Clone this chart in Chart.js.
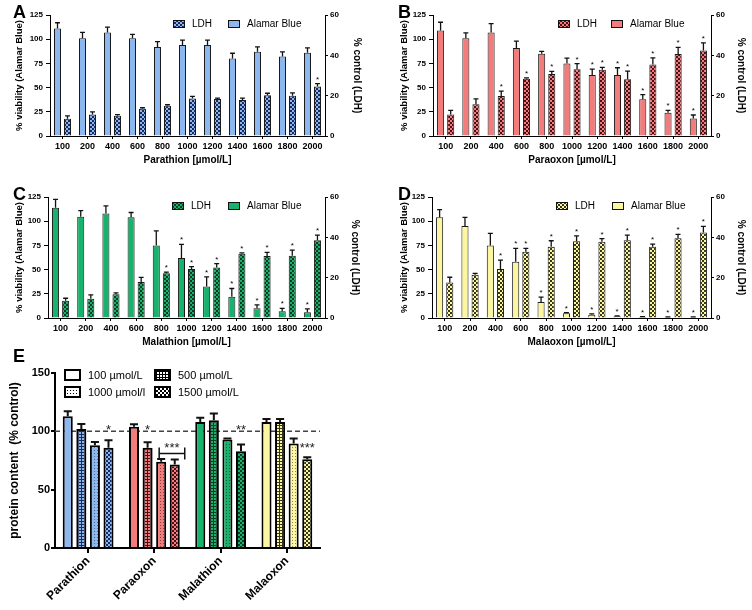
<!DOCTYPE html>
<html>
<head>
<meta charset="utf-8">
<script src="https://cdn.jsdelivr.net/npm/chart.js@4/dist/chart.umd.min.js"></script>
<style>
  body { margin: 0; background: #fff; width: 752px; height: 610px; position: relative; overflow: hidden; font-family: 'Liberation Sans', Arial, sans-serif; }
  canvas { position: absolute; }
  .letter { position: absolute; font-weight: bold; font-size: 18px; line-height: 18px; color: #000; }
</style>
</head>
<body>
<canvas id="chart_a" width="376" height="176" style="left:0;top:0"></canvas>
<canvas id="chart_b" width="376" height="176" style="left:376px;top:0"></canvas>
<canvas id="chart_c" width="376" height="176" style="left:0;top:182px"></canvas>
<canvas id="chart_d" width="376" height="176" style="left:376px;top:182px"></canvas>
<canvas id="chart_e" width="340" height="260" style="left:0;top:350px"></canvas>
<div class="letter" style="left:13px;top:3px">A</div>
<div class="letter" style="left:398px;top:3px">B</div>
<div class="letter" style="left:13px;top:185px">C</div>
<div class="letter" style="left:398px;top:185px">D</div>
<div class="letter" style="left:13px;top:347px">E</div>
<script>
Chart.defaults.font.family = "'Liberation Sans', Arial, sans-serif";
Chart.defaults.color = '#000';

const concentrations = ['100', '200', '400', '600', '800', '1000', '1200', '1400', '1600', '1800', '2000'];
const compounds = ['Parathion', 'Paraoxon', 'Malathion', 'Malaoxon'];
const compound_colors = ['#8db7ef', '#f27b7b', '#17b26b', '#fbf69f'];
const compound_darks = ['#1b2a5c', '#4a1016', '#0b3d22', '#35341c'];

// A - parathion (alamar blue in % viability, ldh in % control)
const parathion_ab = [111, 101, 107, 101, 92, 94, 94, 80, 87, 82, 86];
const parathion_ab_err = [6, 6, 5.5, 4, 5.5, 5, 5, 5.5, 5, 5, 5];
const parathion_ab_star = [0, 0, 0, 0, 0, 0, 0, 0, 0, 0, 0];
const parathion_ldh = [8.6, 10.6, 10.1, 13.5, 15, 18.6, 18.3, 17.8, 20.2, 20, 24.6];
const parathion_ldh_err = [1.4, 1.4, 0.5, 0.5, 0.5, 1.0, 0.5, 1.0, 1.0, 1.4, 1.4];
const parathion_ldh_star = [0, 0, 0, 0, 0, 0, 0, 0, 0, 0, 1];

// B - paraoxon
const paraoxon_ab = [109, 101, 107, 91, 85, 75, 63, 63, 38, 24, 18];
const paraoxon_ab_err = [8.5, 5.5, 9, 7, 2.4, 5.5, 6, 7.5, 4.8, 2.4, 3.7];
const paraoxon_ab_star = [0, 0, 0, 0, 0, 0, 1, 1, 1, 1, 1];
const paraoxon_ldh = [10.7, 15.8, 19.8, 28.4, 30.8, 33.1, 32.8, 28.2, 35.4, 40.6, 42.4];
const paraoxon_ldh_err = [2.0, 2.6, 2.5, 0.4, 1.2, 2.8, 1.2, 4.0, 3.3, 3.3, 3.8];
const paraoxon_ldh_star = [0, 0, 1, 1, 1, 1, 1, 1, 1, 1, 1];

// C - malathion
const malathion_ab = [114, 104.5, 108, 104, 75, 62, 32.5, 22, 10, 7, 6];
const malathion_ab_err = [8.6, 6.5, 7.8, 5, 15, 14, 10, 8.5, 3.5, 3, 3.5];
const malathion_ab_star = [0, 0, 0, 0, 0, 1, 1, 1, 1, 1, 1];
const malathion_ldh = [8.5, 9.5, 11.8, 17.8, 22.2, 24.3, 25, 31.9, 30.7, 30.9, 38.6];
const malathion_ldh_err = [1.3, 2.0, 0.7, 2.3, 0.5, 1.2, 2.0, 0.4, 1.8, 2.8, 2.5];
const malathion_ldh_star = [0, 0, 0, 0, 1, 1, 1, 1, 1, 1, 1];

// D - malaoxon
const malaoxon_ab = [104, 95, 75, 58, 16.5, 4.8, 3.4, 1.7, 1, 0.7, 0.7];
const malaoxon_ab_err = [8, 9, 12.5, 14, 5, 0.8, 0.8, 0.5, 0.5, 0.4, 0.4];
const malaoxon_ab_star = [0, 0, 0, 1, 1, 1, 1, 1, 1, 1, 1];
const malaoxon_ldh = [17.6, 21.5, 24.3, 32.9, 35.3, 38.1, 37.8, 38.6, 35.3, 39.5, 42.4];
const malaoxon_ldh_err = [2.6, 0.6, 4.4, 1.6, 3, 2.6, 1.6, 2.5, 1.3, 2, 3];
const malaoxon_ldh_star = [0, 0, 1, 1, 1, 1, 1, 1, 1, 1, 1];

// E - protein content (% control), one value per compound
const protein_100 = [113, 104, 108, 108];
const protein_100_err = [4.3, 2, 3.7, 2.6];
const protein_500 = [102, 86, 109.5, 108];
const protein_500_err = [4.3, 4.6, 5.7, 2.6];
const protein_1000 = [88, 74, 93, 89.5];
const protein_1000_err = [2.9, 2.3, 0.9, 4.3];
const protein_1500 = [86, 71.5, 83, 76];
const protein_1500_err = [6.3, 4.3, 5.7, 1.7];

function make_pattern (kind, color, dark) {
  const tile = document.createElement('canvas');
  const size = kind === 'checker' ? 4 : 3;
  tile.width = size;
  tile.height = size;
  const t = tile.getContext('2d');
  t.fillStyle = color;
  t.fillRect(0, 0, size, size);
  t.fillStyle = dark;
  if (kind === 'checker') {
    t.fillRect(0, 0, 2, 2);
    t.fillRect(2, 2, 2, 2);
  } else if (kind === 'grid') {
    t.fillRect(0, 0, 3, 1);
    t.fillRect(0, 0, 1, 3);
  } else if (kind === 'dots') {
    t.fillRect(1, 1, 1, 1);
  }
  return t.createPattern(tile, 'repeat');
}

// error bars (cap on top only) + asterisks over the bars
const error_bars = {
  id: 'error_bars',
  afterDatasetsDraw (chart, args, opts) {
    const ctx = chart.ctx;
    ctx.save();
    ctx.strokeStyle = '#111';
    ctx.lineWidth = opts.width;
    chart.data.datasets.forEach(function (ds, i) {
      const meta = chart.getDatasetMeta(i);
      const scale = chart.scales[meta.yAxisID];
      meta.data.forEach(function (bar, j) {
        const top = scale.getPixelForValue(ds.data[j] + ds.errors[j]);
        const half = bar.width * opts.cap / 2;
        ctx.beginPath();
        ctx.moveTo(bar.x, bar.y);
        ctx.lineTo(bar.x, top);
        ctx.moveTo(bar.x - half, top);
        ctx.lineTo(bar.x + half, top);
        ctx.stroke();
        if (ds.stars && ds.stars[j]) {
          ctx.fillStyle = '#000';
          ctx.font = '8px "Liberation Sans", Arial, sans-serif';
          ctx.textAlign = 'center';
          ctx.textBaseline = 'alphabetic';
          ctx.fillText('*', bar.x, top - 2);
        }
      });
    });
    ctx.restore();
  }
};

// legend drawn inside the plot: LDH first, then Alamar Blue
const panel_legend = {
  id: 'panel_legend',
  afterDraw (chart, args, opts) {
    const ctx = chart.ctx;
    ctx.save();
    ctx.font = '10px "Liberation Sans", Arial, sans-serif';
    ctx.textBaseline = 'middle';
    ctx.textAlign = 'left';
    [1, 0].forEach(function (ds_index, k) {
      const ds = chart.data.datasets[ds_index];
      const x = opts.x[k];
      ctx.fillStyle = ds.backgroundColor;
      ctx.fillRect(x, opts.y - 3.5, 12, 7);
      ctx.strokeStyle = '#111';
      ctx.lineWidth = 1;
      ctx.strokeRect(x + 0.5, opts.y - 3.5, 11, 7);
      ctx.fillStyle = '#000';
      ctx.fillText(ds.label, x + 19, opts.y + 0.5);
    });
    ctx.restore();
  }
};

function display_panel_chart (canvas_id, index, x_title, ab, ab_err, ab_star, ldh, ldh_err, ldh_star, box) {
  const tick_grid = { drawOnChartArea: false, tickLength: 3, color: '#000', lineWidth: 1 };
  return new Chart(document.getElementById(canvas_id), {
    type: 'bar',
    data: {
      labels: concentrations,
      datasets: [
        {
          label: 'Alamar Blue', data: ab, errors: ab_err, stars: ab_star, yAxisID: 'y',
          backgroundColor: compound_colors[index], borderColor: '#1a1a1a', borderWidth: 1
        },
        {
          label: 'LDH', data: ldh, errors: ldh_err, stars: ldh_star, yAxisID: 'y1',
          backgroundColor: make_pattern('checker', compound_colors[index], compound_darks[index]),
          borderColor: '#1a1a1a', borderWidth: 1
        }
      ]
    },
    options: {
      responsive: false,
      animation: false,
      devicePixelRatio: 1,
      layout: { padding: { left: box.pad_left, right: box.pad_right, top: 15, bottom: 6 } },
      datasets: { bar: { categoryPercentage: 0.8, barPercentage: 0.7 } },
      scales: {
        x: {
          offset: true,
          grid: Object.assign({}, tick_grid, { offset: false }),
          border: { color: '#000', width: 1 },
          ticks: { font: { size: 9, weight: 'bold' }, padding: 2, maxRotation: 0, autoSkip: false },
          title: { display: true, text: x_title, font: { size: 10, weight: 'bold' } },
          afterFit: function (s) { s.height = 34; }
        },
        y: {
          position: 'left', min: 0, max: 125,
          grid: Object.assign({}, tick_grid, { tickLength: 4 }),
          border: { color: '#000', width: 1 },
          ticks: { stepSize: 25, font: { size: 8, weight: 'bold' }, padding: 3 },
          title: { display: true, text: '% viability (Alamar Blue)', font: { size: 9.5, weight: 'bold' } },
          afterFit: function (s) { s.width = box.y_width; }
        },
        y1: {
          position: 'right', min: 0, max: 60,
          grid: tick_grid,
          border: { color: '#000', width: 1 },
          ticks: { stepSize: 20, font: { size: 8, weight: 'bold' }, padding: 2 },
          title: { display: true, text: '% control (LDH)', font: { size: 10, weight: 'bold' } },
          afterFit: function (s) { s.width = box.y1_width; }
        }
      },
      plugins: {
        legend: { display: false },
        tooltip: { enabled: false },
        error_bars: { width: 1.3, cap: 0.7 },
        panel_legend: { x: box.legend_x, y: 24 }
      }
    },
    plugins: [error_bars, panel_legend]
  });
}

display_panel_chart('chart_a', 0, 'Parathion [µmol/L]', parathion_ab, parathion_ab_err, parathion_ab_star,
  parathion_ldh, parathion_ldh_err, parathion_ldh_star,
  { pad_left: 9.5, y_width: 40.5, pad_right: 9, y1_width: 42, legend_x: [173, 228] });
display_panel_chart('chart_b', 1, 'Paraoxon [µmol/L]', paraoxon_ab, paraoxon_ab_err, paraoxon_ab_star,
  paraoxon_ldh, paraoxon_ldh_err, paraoxon_ldh_star,
  { pad_left: 18.5, y_width: 38.5, pad_right: 1, y1_width: 40, legend_x: [182, 235] });
display_panel_chart('chart_c', 2, 'Malathion [µmol/L]', malathion_ab, malathion_ab_err, malathion_ab_star,
  malathion_ldh, malathion_ldh_err, malathion_ldh_star,
  { pad_left: 9.5, y_width: 38.5, pad_right: 11, y1_width: 40, legend_x: [172, 228] });
display_panel_chart('chart_d', 3, 'Malaoxon [µmol/L]', malaoxon_ab, malaoxon_ab_err, malaoxon_ab_star,
  malaoxon_ldh, malaoxon_ldh_err, malaoxon_ldh_star,
  { pad_left: 18.5, y_width: 37.5, pad_right: 1, y1_width: 40, legend_x: [180, 236] });

// panel E extras: dashed 100% line, significance marks, legend
const protein_marks = [
  { group: 0, ds: 3, value: 103, text: '*' },
  { group: 1, ds: 1, value: 103, text: '*' },
  { group: 1, ds: 2, value: 88, text: '***', bracket_to: 3, bracket_value: 81 },
  { group: 2, ds: 3, value: 103, text: '**' },
  { group: 3, ds: 3, value: 88, text: '***' }
];

const protein_extras = {
  id: 'protein_extras',
  beforeDatasetsDraw (chart) {
    const ctx = chart.ctx;
    const y = chart.scales.y.getPixelForValue(100);
    ctx.save();
    ctx.strokeStyle = '#444';
    ctx.lineWidth = 1.5;
    ctx.setLineDash([5, 3]);
    ctx.beginPath();
    ctx.moveTo(chart.chartArea.left, y);
    ctx.lineTo(chart.chartArea.right, y);
    ctx.stroke();
    ctx.restore();
  },
  afterDraw (chart) {
    const ctx = chart.ctx;
    const y_scale = chart.scales.y;
    ctx.save();
    ctx.fillStyle = '#222';
    ctx.font = '13px "Liberation Sans", Arial, sans-serif';
    ctx.textAlign = 'center';
    ctx.textBaseline = 'middle';
    protein_marks.forEach(function (m) {
      const bar = chart.getDatasetMeta(m.ds).data[m.group];
      let x = bar.x;
      if (m.bracket_to !== undefined) {
        const bar_end = chart.getDatasetMeta(m.bracket_to).data[m.group];
        const x1 = bar.x - 2;
        const x2 = bar_end.x + 10;
        const by = y_scale.getPixelForValue(m.bracket_value);
        ctx.strokeStyle = '#111';
        ctx.lineWidth = 1.5;
        ctx.beginPath();
        ctx.moveTo(x1, by); ctx.lineTo(x2, by);
        ctx.moveTo(x1, by - 6); ctx.lineTo(x1, by + 6);
        ctx.moveTo(x2, by - 6); ctx.lineTo(x2, by + 6);
        ctx.stroke();
        x = (x1 + x2) / 2;
      }
      ctx.fillText(m.text, x, y_scale.getPixelForValue(m.value) + 3);
    });

    // legend, two rows
    const legend_patterns = ['#fff', make_pattern('grid', '#fff', '#000'), make_pattern('dots', '#fff', '#000'), make_pattern('checker', '#fff', '#000')];
    const spots = [[65, 25], [65, 42], [155, 25], [155, 42]];
    const order = [0, 2, 1, 3];
    ctx.font = '11px "Liberation Sans", Arial, sans-serif';
    ctx.textAlign = 'left';
    order.forEach(function (ds_index, k) {
      const [x, y] = spots[k];
      ctx.fillStyle = legend_patterns[ds_index];
      ctx.fillRect(x, y - 5, 15, 10);
      ctx.strokeStyle = '#000';
      ctx.lineWidth = 2;
      ctx.strokeRect(x, y - 5, 15, 10);
      ctx.fillStyle = '#000';
      ctx.fillText(chart.data.datasets[ds_index].label, x + 23, y + 0.5);
    });
    ctx.restore();
  }
};

const e_tick_grid = { drawOnChartArea: false, tickLength: 4, color: '#000', lineWidth: 2 };

new Chart(document.getElementById('chart_e'), {
  type: 'bar',
  data: {
    labels: compounds,
    datasets: [
      { label: '100 µmol/L', data: protein_100, errors: protein_100_err, backgroundColor: compound_colors },
      { label: '500 µmol/L', data: protein_500, errors: protein_500_err,
        backgroundColor: compound_colors.map((c, i) => make_pattern('grid', c, compound_darks[i])) },
      { label: '1000 µmol/l', data: protein_1000, errors: protein_1000_err,
        backgroundColor: compound_colors.map((c, i) => make_pattern('dots', c, 'rgba(0,0,0,0.45)')) },
      { label: '1500 µmol/L', data: protein_1500, errors: protein_1500_err,
        backgroundColor: compound_colors.map((c, i) => make_pattern('checker', c, compound_darks[i])) }
    ]
  },
  options: {
    responsive: false,
    animation: false,
    devicePixelRatio: 1,
    layout: { padding: { left: 3.8, right: 20, top: 23, bottom: 0 } },
    datasets: { bar: { categoryPercentage: 0.82, barPercentage: 0.74, borderColor: '#000', borderWidth: 2 } },
    scales: {
      x: {
        offset: true,
        grid: Object.assign({}, e_tick_grid, { offset: false, tickLength: 5 }),
        border: { color: '#000', width: 2 },
        ticks: { font: { size: 12, weight: 'bold' }, minRotation: 45, maxRotation: 45, padding: 1 },
        afterFit: function (s) { s.height = 62; }
      },
      y: {
        min: 0, max: 150,
        grid: e_tick_grid,
        border: { color: '#000', width: 2 },
        ticks: { stepSize: 50, font: { size: 11, weight: 'bold' }, padding: 1 },
        title: { display: true, text: 'protein content  (% control)', font: { size: 12, weight: 'bold' } },
        afterFit: function (s) { s.width = 51.2; }
      }
    },
    plugins: {
      legend: { display: false },
      tooltip: { enabled: false },
      error_bars: { width: 2, cap: 0.8 }
    }
  },
  plugins: [error_bars, protein_extras]
});
</script>
</body>
</html>
